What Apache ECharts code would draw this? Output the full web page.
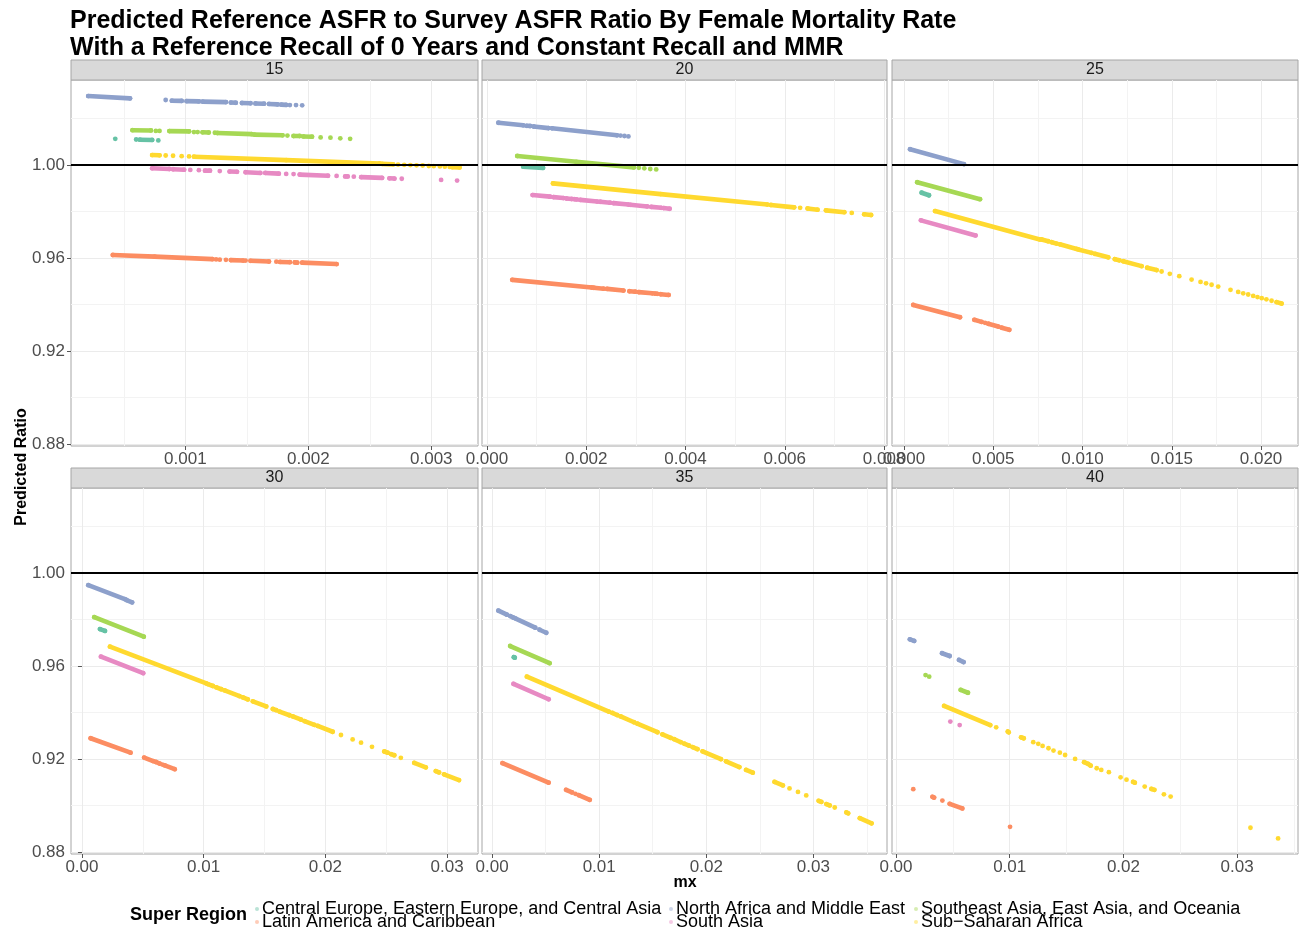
<!DOCTYPE html>
<html style="height: 100%">
<head>
<meta charset="utf-8">
<script src="https://cdn.jsdelivr.net/npm/echarts@6/dist/echarts.min.js"></script>
</head>
<body style="height: 100%; margin: 0; background: #fff">
<div id="main" style="width: 1303px; height: 933px"></div>
<script>
// facets (age groups) and super regions
const ages = ['15', '20', '25', '30', '35', '40'];
const regionNames = [
  'Central Europe, Eastern Europe, and Central Asia',
  'Latin America and Caribbean',
  'North Africa and Middle East',
  'South Asia',
  'Southeast Asia, East Asia, and Oceania',
  'Sub\u2212Saharan Africa'
];
const regionColors = ['#66C2A5', '#FC8D62', '#8DA0CB', '#E78AC3', '#A6D854', '#FFD92F'];

// tick labels
const yTicks = [0.88, 0.92, 0.96, 1.00];
const yMinor = [0.90, 0.94, 0.98, 1.02];
const xTicks = [
  [0.001, 0.002, 0.003],
  [0, 0.002, 0.004, 0.006, 0.008],
  [0, 0.005, 0.010, 0.015, 0.020],
  [0, 0.01, 0.02, 0.03],
  [0, 0.01, 0.02, 0.03],
  [0, 0.01, 0.02, 0.03]
];
const xMinor = [
  [0.0005, 0.0015, 0.0025],
  [0.001, 0.003, 0.005, 0.007],
  [0.0025, 0.0075, 0.0125, 0.0175],
  [0.005, 0.015, 0.025],
  [0.005, 0.015, 0.025, 0.035],
  [0.005, 0.015, 0.025, 0.035]
];
const xDigits = [3, 3, 3, 2, 2, 2];
const xRange = [
  [0.00007, 0.00338], [-0.0001, 0.00806], [-0.00067, 0.02207],
  [-0.0009, 0.03254], [-0.00094, 0.03687], [-0.00035, 0.03535]
];
const yRange = [0.8791, 1.0366];

// points [mx, ratio] per facet; null = gap between runs of points
const _ = null;
const cee = [
  [[0.00043,1.0113],_,[0.0006,1.0110],_,[0.00063,1.0109],[0.00073,1.0108],_,[0.00078,1.0106]],
  [[0.00073,0.9993],[0.00113,0.9988]],
  [[0.00099,0.9881],[0.0014,0.9870]],
  [[0.00148,0.9759],[0.00189,0.9751]],
  [[0.00203,0.9638],[0.00212,0.9636]],
  []
];
const lac = [
  [[0.00041,0.9613],[0.00075,0.9606],[0.00122,0.9595],_,[0.00125,0.9594],_,[0.00128,0.9593],_,[0.00133,0.9592],_,[0.00137,0.9591],[0.00147,0.9589],_,[0.00149,0.9589],_,[0.00153,0.9588],[0.00168,0.9585],_,[0.00174,0.9584],_,[0.00177,0.9583],[0.00185,0.9582],_,[0.00189,0.9581],[0.00191,0.9580],_,[0.00195,0.9580],[0.00223,0.9574]],
  [[0.00051,0.9506],[0.00211,0.9473],_,[0.00215,0.9472],[0.00235,0.9468],_,[0.00242,0.9467],[0.00275,0.9460],_,[0.00287,0.9457],[0.00299,0.9455],_,[0.00306,0.9453],[0.00333,0.9448],_,[0.00338,0.9447],[0.00343,0.9446],_,[0.0035,0.9444],[0.00366,0.9441]],
  [[0.00052,0.9398],[0.00314,0.9345],_,[0.00394,0.9334],[0.00435,0.9325],_,[0.00454,0.9321],_,[0.00472,0.9317],[0.00528,0.9305],_,[0.00547,0.9300],[0.0059,0.9291]],
  [[0.00071,0.9289],[0.00399,0.9227],_,[0.00511,0.9206],[0.00585,0.9191],_,[0.00607,0.9187],[0.00639,0.9180],_,[0.00661,0.9176],_,[0.0068,0.9172],[0.00762,0.9156]],
  [[0.00097,0.9182],[0.00528,0.9098],_,[0.00691,0.9067],[0.00747,0.9056],_,[0.00778,0.9050],_,[0.00809,0.9044],[0.00912,0.9024]],
  [[0.00152,0.9070],_,[0.00321,0.9037],[0.00335,0.9034],_,[0.00408,0.9021],_,[0.00472,0.9007],[0.00583,0.8987],_,[0.01003,0.8908]]
];
const nam = [
  [[0.00021,1.0297],[0.00055,1.0287],_,[0.00084,1.0280],_,[0.00089,1.0277],[0.00097,1.0276],_,[0.00101,1.0275],[0.00111,1.0274],_,[0.00114,1.0273],[0.00133,1.0271],_,[0.00137,1.0269],[0.00141,1.0268],_,[0.00146,1.0267],[0.00153,1.0266],_,[0.00157,1.0265],[0.00164,1.0264],_,[0.00168,1.0263],[0.00175,1.0261],_,[0.00178,1.0260],[0.00182,1.0259],_,[0.00185,1.0258],_,[0.0019,1.0258],_,[0.00195,1.0257]],
  [[0.00023,1.0182],[0.00073,1.0171],_,[0.0008,1.0169],[0.00087,1.0168],_,[0.00094,1.0166],[0.00124,1.0159],_,[0.00131,1.0158],[0.00262,1.0128],_,[0.00269,1.0127],_,[0.00277,1.0125],_,[0.00285,1.0123]],
  [[0.00034,1.0068],[0.00336,1.0004]],
  [[0.00052,0.9948],[0.00352,0.9888],_,[0.00366,0.9884],[0.00412,0.9874]],
  [[0.00059,0.9838],[0.00138,0.9821],_,[0.00169,0.9815],[0.002,0.9808],_,[0.00216,0.9805],[0.00403,0.9765],_,[0.00443,0.9756],[0.00506,0.9743]],
  [[0.00122,0.9715],[0.0016,0.9708],_,[0.00405,0.9655],[0.00472,0.9643],_,[0.00554,0.9626],[0.00595,0.9617]]
];
const sa = [
  [[0.00073,0.9986],[0.00087,0.9983],_,[0.0009,0.9982],[0.00099,0.9980],_,[0.00104,0.9979],_,[0.00111,0.9978],_,[0.00116,0.9976],[0.0012,0.9976],_,[0.00128,0.9974],_,[0.00136,0.9972],[0.00142,0.9971],_,[0.00149,0.9969],[0.00161,0.9966],_,[0.00165,0.9966],[0.00176,0.9963],_,[0.00182,0.9962],_,[0.00188,0.9961],_,[0.00193,0.9959],[0.00216,0.9954],_,[0.00223,0.9953],_,[0.0023,0.9951],[0.00232,0.9951],_,[0.00237,0.9950],_,[0.00243,0.9948],[0.0026,0.9945],_,[0.00266,0.9943],[0.0027,0.9942],_,[0.00276,0.9941],_,[0.00308,0.9936],_,[0.00321,0.9933]],
  [[0.00092,0.9871],[0.00127,0.9864],_,[0.00134,0.9862],[0.00154,0.9858],_,[0.0016,0.9856],[0.00171,0.9854],_,[0.00176,0.9853],[0.00181,0.9852],_,[0.00188,0.9850],[0.00222,0.9843],_,[0.00228,0.9842],[0.00248,0.9838],_,[0.00255,0.9836],[0.00285,0.9830],_,[0.00289,0.9829],[0.00323,0.9822],_,[0.00331,0.9820],[0.00351,0.9816],_,[0.00356,0.9815],[0.00368,0.9812]],
  [[0.00095,0.9762],[0.00401,0.9697]],
  [[0.00156,0.9640],[0.00503,0.9569]],
  [[0.002,0.9523],[0.00528,0.9457]],
  [[0.00478,0.9361],_,[0.0056,0.9346]]
];
const sea = [
  [[0.00057,1.0150],[0.00072,1.0149],_,[0.00076,1.0147],_,[0.00079,1.0147],_,[0.00087,1.0146],[0.00103,1.0145],_,[0.00107,1.0142],_,[0.0011,1.0142],_,[0.00114,1.0141],[0.00119,1.0140],_,[0.00124,1.0139],_,[0.00126,1.0138],[0.00154,1.0133],_,[0.00156,1.0131],[0.00179,1.0128],_,[0.00183,1.0127],_,[0.00188,1.0125],[0.00193,1.0125],_,[0.00196,1.0123],[0.00203,1.0122],_,[0.0021,1.0119],_,[0.00218,1.0118],_,[0.00226,1.0115],_,[0.00234,1.0113]],
  [[0.00061,1.0039],[0.0018,1.0014],[0.00296,0.9990],_,[0.00306,0.9988],_,[0.00317,0.9986],_,[0.00329,0.9983],_,[0.00341,0.9981]],
  [[0.00074,0.9926],[0.00426,0.9853]],
  [[0.00101,0.9810],[0.00508,0.9726]],
  [[0.00169,0.9686],[0.00537,0.9612]],
  [[0.0026,0.9561],_,[0.00292,0.9554],_,[0.00569,0.9497],[0.00633,0.9485]]
];
const ssa = [
  [[0.00073,1.0043],[0.00079,1.0042],_,[0.00084,1.0041],_,[0.0009,1.0040],_,[0.00097,1.0038],_,[0.00103,1.0037],_,[0.00107,1.0036],[0.00182,1.0021],[0.00258,1.0007],_,[0.0026,1.0005],[0.00269,1.0003],_,[0.00273,1.0002],_,[0.00278,1.0001],_,[0.00283,1.0000],_,[0.00288,0.9999],_,[0.00293,0.9998],_,[0.00298,0.9996],_,[0.00302,0.9995],_,[0.00307,0.9994],_,[0.00311,0.9993],_,[0.00315,0.9992],_,[0.00317,0.9991],[0.00323,0.9990]],
  [[0.00133,0.9921],[0.0035,0.9875],[0.00565,0.9830],_,[0.00572,0.9828],[0.00619,0.9818],_,[0.00631,0.9816],_,[0.00646,0.9813],[0.00666,0.9808],_,[0.00683,0.9805],[0.0072,0.9797],_,[0.00735,0.9794],_,[0.0076,0.9788],[0.00774,0.9785]],
  [[0.00174,0.9802],[0.00761,0.9680],_,[0.00771,0.9680],[0.00808,0.9672],_,[0.00827,0.9668],[0.00855,0.9662],_,[0.00873,0.9659],[0.00967,0.9639],_,[0.00976,0.9637],[0.01051,0.9622],_,[0.01069,0.9618],[0.01144,0.9603],_,[0.01181,0.9595],[0.01206,0.9590],_,[0.01228,0.9586],[0.01331,0.9565],_,[0.01362,0.9558],[0.01415,0.9548],_,[0.01443,0.9542],_,[0.01489,0.9532],_,[0.01542,0.9522],_,[0.01611,0.9507],_,[0.01661,0.9497],_,[0.01692,0.9491],_,[0.01723,0.9485],_,[0.0176,0.9477],_,[0.01829,0.9463],_,[0.01872,0.9454],_,[0.019,0.9448],_,[0.01928,0.9443],_,[0.01956,0.9437],_,[0.0198,0.9432],_,[0.02004,0.9427],_,[0.0203,0.9422],_,[0.02059,0.9416],_,[0.02087,0.9410],[0.02115,0.9404]],
  [[0.0023,0.9683],[0.01022,0.9525],_,[0.01035,0.9522],[0.01076,0.9514],_,[0.01104,0.9508],[0.01145,0.9500],_,[0.01172,0.9495],[0.01295,0.9470],_,[0.01322,0.9465],[0.01363,0.9456],_,[0.01404,0.9448],[0.01514,0.9426],_,[0.01568,0.9415],[0.01596,0.9410],_,[0.01623,0.9404],[0.01705,0.9388],_,[0.01732,0.9383],[0.01801,0.9369],_,[0.01828,0.9363],[0.0191,0.9347],_,[0.01937,0.9342],[0.0206,0.9317],_,[0.02128,0.9303],_,[0.02224,0.9284],_,[0.02293,0.9270],_,[0.02383,0.9252],_,[0.02484,0.9232],[0.02511,0.9227],_,[0.02539,0.9221],[0.02566,0.9216],_,[0.0262,0.9205],_,[0.0273,0.9183],[0.02825,0.9164],_,[0.02907,0.9148],[0.02934,0.9142],_,[0.02975,0.9134],[0.03098,0.9109]],
  [[0.00325,0.9554],[0.0109,0.9404],_,[0.01122,0.9398],[0.01169,0.9389],_,[0.012,0.9383],[0.01325,0.9358],_,[0.01356,0.9352],[0.01544,0.9315],_,[0.0159,0.9306],[0.01668,0.9291],_,[0.01699,0.9285],[0.01762,0.9272],_,[0.01793,0.9266],[0.0184,0.9257],_,[0.01872,0.9251],[0.01918,0.9242],_,[0.01965,0.9233],[0.02137,0.9199],_,[0.02184,0.9190],[0.02309,0.9165],_,[0.02371,0.9153],[0.02434,0.9141],_,[0.02637,0.9101],[0.02715,0.9086],_,[0.02777,0.9073],_,[0.02856,0.9058],_,[0.02933,0.9043],_,[0.03049,0.9020],[0.03074,0.9015],_,[0.03121,0.9006],[0.03152,0.9000],_,[0.03199,0.8991],_,[0.03308,0.8970],[0.03324,0.8966],_,[0.03433,0.8945],[0.03543,0.8923]],
  [[0.00423,0.9428],[0.00829,0.9346],_,[0.00881,0.9336],_,[0.00983,0.9318],[0.00991,0.9315],_,[0.011,0.9293],[0.01123,0.9289],_,[0.01207,0.9272],_,[0.01251,0.9265],_,[0.01289,0.9256],_,[0.01341,0.9246],_,[0.01385,0.9236],_,[0.01441,0.9227],_,[0.01487,0.9217],_,[0.01575,0.9200],_,[0.01654,0.9186],[0.01689,0.9179],[0.01712,0.9171],_,[0.01765,0.9160],_,[0.01805,0.9153],_,[0.01872,0.9143],_,[0.01975,0.9121],_,[0.02027,0.9111],_,[0.02085,0.9101],[0.021,0.9098],_,[0.02187,0.9081],_,[0.02246,0.9071],[0.02272,0.9067],_,[0.02356,0.9048],_,[0.02415,0.9038],_,[0.03117,0.8904],_,[0.0336,0.8858]]
];
const regionData = [cee, lac, nam, sa, sea, ssa];

const FONT = 'Liberation Sans, Arial, sans-serif';
const chart = echarts.init(document.getElementById('main'));

const colLeft = [71, 482, 892];
const colWidth = [407, 405, 406];
const rowTop = [80, 488];
const panelH = 366;

const grids = [], xAxes = [], yAxes = [], series = [], graphics = [];
ages.forEach(function (age, i) {
  const c = i % 3, r = Math.floor(i / 3);
  grids.push({
    left: colLeft[c], top: rowTop[r], width: colWidth[c], height: panelH,
    show: true, borderColor: '#a6a6a6', borderWidth: 1, containLabel: false
  });
  const digits = xDigits[i];
  xAxes.push({
    type: 'value', gridIndex: i, min: xRange[i][0], max: xRange[i][1],
    axisLine: { show: false },
    axisTick: { show: true, length: 4, lineStyle: { color: '#555' }, customValues: xTicks[i] },
    axisLabel: {
      customValues: xTicks[i], margin: 5, color: '#4d4d4d', fontSize: 17, fontFamily: FONT,
      formatter: function (v) { return v.toFixed(digits); }
    },
    splitLine: { show: true, lineStyle: { color: '#ebebeb', width: 1 } }
  });
  yAxes.push({
    type: 'value', gridIndex: i, min: yRange[0], max: yRange[1],
    axisLine: { show: false },
    axisTick: { show: c === 0, length: 4, lineStyle: { color: '#555' }, customValues: yTicks },
    axisLabel: {
      show: c === 0, customValues: yTicks, margin: 6, color: '#4d4d4d', fontSize: 17, fontFamily: FONT,
      formatter: function (v) { return v.toFixed(2); }
    },
    splitLine: { show: true, lineStyle: { color: '#ebebeb', width: 1 } }
  });
  // strip
  graphics.push({
    type: 'rect', shape: { x: colLeft[c], y: rowTop[r] - 20, width: colWidth[c], height: 20 },
    style: { fill: '#d9d9d9', stroke: '#a6a6a6', lineWidth: 1 }
  });
  graphics.push({
    type: 'text', x: colLeft[c] + colWidth[c] / 2, y: rowTop[r] - 10,
    style: { text: age, font: '16px ' + FONT, fill: '#1a1a1a', textAlign: 'center', textVerticalAlign: 'middle' }
  });
  regionData.forEach(function (arr, k) {
    series.push({
      type: 'line', name: regionNames[k], xAxisIndex: i, yAxisIndex: i,
      data: arr[i].map(function (p) { return p ? p : ['-', '-']; }),
      symbol: 'circle', symbolSize: 4.8, showSymbol: true,
      lineStyle: { width: 4.6, color: regionColors[k], cap: 'round', join: 'round' },
      itemStyle: { color: regionColors[k] },
      connectNulls: false, silent: true, animation: false,
      emphasis: { disabled: true }, z: 2
    });
  });
  // reference line at 1
  series.push({
    type: 'line', xAxisIndex: i, yAxisIndex: i, data: [], silent: true, animation: false, z: 4,
    markLine: {
      silent: true, symbol: ['none', 'none'], label: { show: false }, animation: false,
      lineStyle: { color: '#000', width: 2, type: 'solid' },
      emphasis: { disabled: true },
      data: [{ yAxis: 1 }]
    }
  });
});
// minor grid axes
ages.forEach(function (age, i) {
  xAxes.push({
    type: 'value', gridIndex: i, min: xRange[i][0], max: xRange[i][1],
    axisLine: { show: false }, axisLabel: { show: false },
    axisTick: { show: false, customValues: xMinor[i] },
    splitLine: { show: true, lineStyle: { color: '#f3f3f3', width: 1 } }
  });
  yAxes.push({
    type: 'value', gridIndex: i, min: yRange[0], max: yRange[1],
    axisLine: { show: false }, axisLabel: { show: false },
    axisTick: { show: false, customValues: yMinor },
    splitLine: { show: true, lineStyle: { color: '#f3f3f3', width: 1 } }
  });
});

graphics.push({
  type: 'text', x: 22, y: 467, rotation: Math.PI / 2,
  style: { text: 'Predicted Ratio', font: 'bold 16px ' + FONT, fill: '#000', textAlign: 'center', textVerticalAlign: 'middle' }
});
graphics.push({
  type: 'text', x: 685, y: 883,
  style: { text: 'mx', font: 'bold 16px ' + FONT, fill: '#000', textAlign: 'center', textVerticalAlign: 'middle' }
});
graphics.push({
  type: 'text', x: 130, y: 915,
  style: { text: 'Super Region', font: 'bold 18px ' + FONT, fill: '#000', textAlign: 'left', textVerticalAlign: 'middle' }
});

const legendPos = [[255, 900], [255, 913], [669, 900], [669, 913], [914, 900], [914, 913]];
const legends = regionNames.map(function (name, k) {
  return {
    data: [name], left: legendPos[k][0], top: legendPos[k][1], padding: 0,
    icon: 'circle', itemWidth: 4, itemHeight: 4, selectedMode: false,
    itemStyle: { opacity: 0.45 },
    textStyle: { fontSize: 18, fontFamily: FONT, color: '#000', lineHeight: 18, padding: [0, 0, 0, -2] }
  };
});

chart.setOption({
  backgroundColor: '#fff',
  animation: false,
  title: {
    text: 'Predicted Reference ASFR to Survey ASFR Ratio By Female Mortality Rate\nWith a Reference Recall of 0 Years and Constant Recall and MMR',
    left: 66, top: 8, padding: [0, 0, 0, 4],
    textStyle: { fontSize: 25, fontWeight: 'bold', lineHeight: 27, color: '#000', fontFamily: FONT }
  },
  legend: legends,
  grid: grids,
  xAxis: xAxes,
  yAxis: yAxes,
  series: series,
  graphic: graphics
});
</script>
</body>
</html>
